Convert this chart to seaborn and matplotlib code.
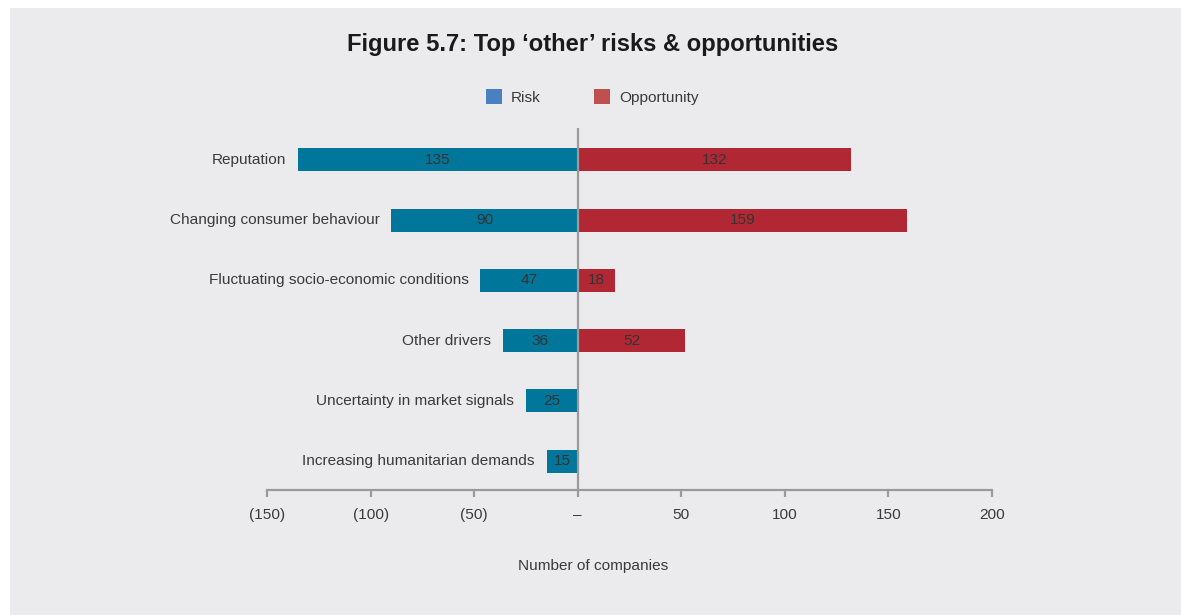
import matplotlib
matplotlib.use("Agg")
import matplotlib.pyplot as plt
from matplotlib.patches import Patch, Rectangle
import pandas as pd
import seaborn as sns

# Data
categories = [
    "Reputation",
    "Changing consumer behaviour",
    "Fluctuating socio-economic conditions",
    "Other drivers",
    "Uncertainty in market signals",
    "Increasing humanitarian demands",
]
risk = [135, 90, 47, 36, 25, 15]
opportunity = [132, 159, 18, 52, None, None]
tick_values = [-150, -100, -50, 0, 50, 100, 150, 200]
tick_labels = ["(150)", "(100)", "(50)", "\u2013", "50", "100", "150", "200"]

# Colours
BG = "#ebebed"
RISK_BAR = "#00769a"
OPP_BAR = "#b12834"
RISK_KEY = "#4a7fc1"
OPP_KEY = "#c0504d"
TEXT = "#3a3a3a"
AXIS = "#9a9a9a"

rows = []
for c, r, o in zip(categories, risk, opportunity):
    rows.append({"category": c, "value": -r, "type": "Risk"})
    if o is not None:
        rows.append({"category": c, "value": o, "type": "Opportunity"})
df = pd.DataFrame(rows)

sns.set_theme(style="white")
plt.rcParams["font.family"] = ["Liberation Sans", "DejaVu Sans"]
FS = 11.1

fig = plt.figure(figsize=(11.81, 6.15), dpi=100)
fig.patch.set_facecolor("white")
fig.patches.append(Rectangle((10 / 1181, 0), 1, 1 - 8 / 615, transform=fig.transFigure,
                             facecolor=BG, edgecolor="none", zorder=-10))

ax = fig.add_axes([267 / 1181, 1 - 490 / 615, 725 / 1181, 362 / 615])
ax.set_facecolor("none")

sns.barplot(data=df, y="category", x="value", hue="type", order=categories,
            hue_order=["Risk", "Opportunity"], palette=[RISK_BAR, OPP_BAR],
            orient="h", dodge=False, width=0.38, saturation=1, legend=False,
            linewidth=0, edgecolor="none", ax=ax)

ax.set_xlim(-150, 200)
ax.set_ylim(5.48, -0.53)

# Value labels inside bars
for cont in ax.containers:
    labels = [f"{abs(v):.0f}" for v in cont.datavalues]
    ax.bar_label(cont, labels=labels, label_type="center", color="#333333", fontsize=FS)

# Category names to the left of each risk bar
for i, (c, r) in enumerate(zip(categories, risk)):
    ax.annotate(c, xy=(-r, i), xytext=(-8.5, 0), textcoords="offset points",
                ha="right", va="center", color=TEXT, fontsize=FS)

# Axes styling
for s in ["top", "right", "left"]:
    ax.spines[s].set_visible(False)
ax.spines["bottom"].set_color(AXIS)
ax.spines["bottom"].set_linewidth(1.6)
ax.set_yticks([])
ax.set_ylabel("")
ax.set_xticks(tick_values)
ax.set_xticklabels(tick_labels, color=TEXT, fontsize=FS)
ax.tick_params(axis="x", bottom=True, direction="out", length=5.2, width=1.6,
               color=AXIS, pad=8)
ax.axvline(0, color=AXIS, lw=1.6, zorder=3)
ax.set_xlabel("Number of companies", color=TEXT, fontsize=FS)
ax.xaxis.set_label_coords((593 - 267) / 725, -(566 - 490) / 362)
ax.xaxis.label.set_va("center")

fig.text(593 / 1181, 1 - 44 / 615, "Figure 5.7: Top \u2018other\u2019 risks & opportunities",
         ha="center", va="center", fontsize=17.1, fontweight="bold", color="#1a1a1a")

handles = [Patch(facecolor=RISK_KEY, edgecolor="none", label="Risk"),
           Patch(facecolor=OPP_KEY, edgecolor="none", label="Opportunity")]
fig.legend(handles=handles, loc="center", bbox_to_anchor=(592 / 1181, 1 - 97 / 615), ncol=2,
           frameon=False, fontsize=FS, handlelength=1.05, handleheight=1.05,
           handletextpad=0.55, columnspacing=3.5, labelcolor=TEXT)

fig.savefig("out.png", dpi=100, facecolor=fig.get_facecolor())
